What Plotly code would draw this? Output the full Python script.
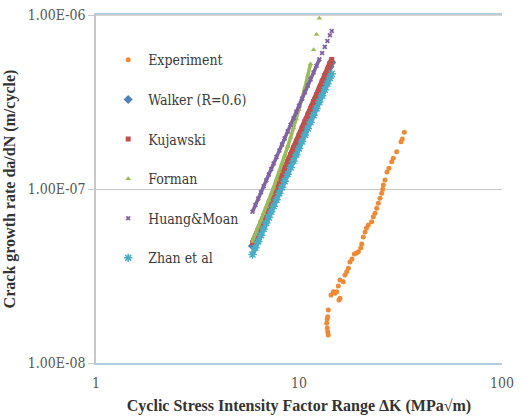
import plotly.graph_objects as go

# Experimental data (ΔK in MPa√m, da/dN in m/cycle)
exp_dk = [13.94, 13.85, 13.79, 13.69, 13.77, 13.85, 13.94, 14.38, 14.76, 15.04,
          15.34, 15.62, 15.92, 15.74, 15.92, 16.53, 16.85, 17.18, 17.50, 17.83,
          18.24, 18.73, 19.20, 19.60, 20.14, 20.37, 20.74, 21.14, 21.50, 21.95,
          22.81, 23.23, 23.68, 24.14, 24.58, 25.06, 25.55, 25.84, 26.02, 26.52,
          27.13, 27.75, 28.62, 29.14, 30.28, 31.80, 32.28, 33.02]
exp_rate = [1.448e-8, 1.513e-8, 1.589e-8, 1.691e-8, 1.790e-8, 1.845e-8, 2.016e-8, 2.459e-8, 2.569e-8, 2.515e-8,
            2.569e-8, 2.770e-8, 2.999e-8, 2.302e-8, 2.354e-8, 2.932e-8, 3.203e-8, 3.346e-8, 3.500e-8, 3.805e-8,
            3.959e-8, 4.229e-8, 4.286e-8, 4.361e-8, 4.580e-8, 4.829e-8, 5.298e-8, 5.661e-8, 5.969e-8, 6.210e-8,
            6.488e-8, 6.934e-8, 7.252e-8, 7.745e-8, 8.275e-8, 8.843e-8, 9.447e-8, 9.961e-8, 1.054e-7, 1.126e-7,
            1.252e-7, 1.315e-7, 1.435e-7, 1.501e-7, 1.638e-7, 1.870e-7, 1.939e-7, 2.118e-7]

# Model predictions, shared ΔK values
model_dk = [5.9, 6.1, 6.3, 6.5, 6.7, 6.9, 7.1, 7.3, 7.5, 7.75,
            8.0, 8.25, 8.5, 8.8, 9.1, 9.4, 9.7, 10.0, 10.35, 10.7,
            11.05, 11.4, 11.8, 12.2, 12.6, 13.0, 13.4, 13.8, 14.2, 14.5]

walker = [4.70e-8, 5.15e-8, 5.62e-8, 6.12e-8, 6.63e-8, 7.18e-8, 7.76e-8, 8.36e-8, 9.00e-8, 9.82e-8,
          1.070e-7, 1.163e-7, 1.260e-7, 1.384e-7, 1.516e-7, 1.654e-7, 1.801e-7, 1.955e-7, 2.145e-7, 2.346e-7,
          2.560e-7, 2.785e-7, 3.057e-7, 3.345e-7, 3.649e-7, 3.969e-7, 4.308e-7, 4.667e-7, 5.040e-7, 5.333e-7]

kujawski = [4.90e-8, 5.36e-8, 5.85e-8, 6.37e-8, 6.91e-8, 7.48e-8, 8.08e-8, 8.71e-8, 9.37e-8, 1.023e-7,
            1.115e-7, 1.211e-7, 1.313e-7, 1.442e-7, 1.579e-7, 1.723e-7, 1.876e-7, 2.036e-7, 2.234e-7, 2.444e-7,
            2.667e-7, 2.901e-7, 3.184e-7, 3.484e-7, 3.801e-7, 4.134e-7, 4.488e-7, 4.861e-7, 5.250e-7, 5.555e-7]

forman_dk = [5.9, 6.1, 6.3, 6.5, 6.7, 6.9, 7.1, 7.3, 7.5, 7.75,
             8.0, 8.25, 8.5, 8.8, 9.1, 9.4, 9.7, 10.0, 10.35, 10.7,
             11.05, 11.4, 11.8, 12.2, 12.6]
forman = [5.00e-8, 5.50e-8, 6.03e-8, 6.61e-8, 7.24e-8, 7.91e-8, 8.63e-8, 9.41e-8, 1.024e-7, 1.138e-7,
          1.263e-7, 1.400e-7, 1.551e-7, 1.753e-7, 1.981e-7, 2.238e-7, 2.529e-7, 2.861e-7, 3.311e-7, 3.840e-7,
          4.473e-7, 5.236e-7, 6.317e-7, 7.713e-7, 9.572e-7]

huang_moan = [7.40e-8, 8.09e-8, 8.81e-8, 9.57e-8, 1.038e-7, 1.122e-7, 1.210e-7, 1.304e-7, 1.401e-7, 1.529e-7,
              1.663e-7, 1.804e-7, 1.954e-7, 2.143e-7, 2.343e-7, 2.553e-7, 2.775e-7, 3.011e-7, 3.300e-7, 3.605e-7,
              3.927e-7, 4.266e-7, 4.676e-7, 5.111e-7, 5.568e-7, 6.049e-7, 6.558e-7, 7.090e-7, 7.652e-7, 8.091e-7]

zhan = [4.20e-8, 4.59e-8, 5.00e-8, 5.43e-8, 5.89e-8, 6.37e-8, 6.87e-8, 7.40e-8, 7.95e-8, 8.68e-8,
        9.44e-8, 1.024e-7, 1.109e-7, 1.216e-7, 1.330e-7, 1.449e-7, 1.575e-7, 1.709e-7, 1.873e-7, 2.046e-7,
        2.229e-7, 2.421e-7, 2.654e-7, 2.901e-7, 3.160e-7, 3.433e-7, 3.722e-7, 4.024e-7, 4.343e-7, 4.592e-7]

y_tickvals = [1e-8, 1e-7, 1e-6]
y_ticktext = ["1.00E-08", "1.00E-07", "1.00E-06"]
x_tickvals = [1, 10, 100]
x_ticktext = ["1", "10", "100"]

FONT = "Liberation Serif"
FONT_R = "DejaVu Serif Condensed, DejaVu Serif"

fig = go.Figure()
# (name, x, y, marker, band width, number of points covered by the dense band)
series = [
    ("Experiment", exp_dk, exp_rate, dict(symbol="circle", size=5, color="#EE8A35"), 0, 0),
    ("Walker (R=0.6)", model_dk, walker, dict(symbol="diamond", size=7, color="#4F81BD"), 6, 30),
    ("Kujawski", model_dk, kujawski, dict(symbol="square", size=5, color="#C0504D"), 5.5, 30),
    ("Forman", forman_dk, forman, dict(symbol="triangle-up", size=5, color="#9BBB59"), 3.5, 22),
    ("Huang&Moan", model_dk, huang_moan, dict(symbol="x", size=4.5, color="#8064A2"), 3.5, 25),
    ("Zhan et al", model_dk, zhan, dict(symbol="asterisk-open", size=7, color="#4BACC6",
                                         line=dict(color="#4BACC6", width=1.5)), 5, 30),
]
for i, (name, xs, ys, mk, bw, nb) in enumerate(series):
    if bw > 0:
        fig.add_trace(go.Scatter(x=xs[:nb], y=ys[:nb], mode="lines", showlegend=False,
                                 legendgroup=f"g{i}", hoverinfo="skip",
                                 line=dict(color=mk["color"], width=bw)))
    fig.add_trace(go.Scatter(x=xs, y=ys, mode="markers", name=name, marker=mk,
                             legendgroup=f"g{i}"))

fig.update_layout(
    width=527, height=419,
    margin=dict(l=96, r=25, t=15, b=56, autoexpand=False),
    paper_bgcolor="white", plot_bgcolor="white",
    font=dict(family=FONT, color="#404040"),
    showlegend=True,
    legend=dict(x=0.03, y=0.916, xanchor="left", yanchor="top",
                bgcolor="rgba(0,0,0,0)", font=dict(family=FONT_R, size=14, color="#3a3a3a"),
                tracegroupgap=18.4),
    shapes=[dict(type="line", xref="paper", yref="paper", x0=0, x1=1, y0=1, y1=1,
                 line=dict(color="#C8C8C8", width=1.5), layer="above")],
    xaxis=dict(type="log", range=[0, 2], tickvals=x_tickvals, ticktext=x_ticktext,
               showgrid=False, showline=True, linecolor="#AFCFE0", linewidth=1.5,
               mirror=True, ticks="", zeroline=False, ticklabelstandoff=6, automargin=False,
               tickfont=dict(family=FONT_R, size=14, color="#555555"),
               title=dict(text="<b>Cyclic Stress Intensity Factor Range ΔK (MPa√m)</b>",
                          font=dict(family=FONT, size=16, color="#333333"), standoff=10)),
    yaxis=dict(type="log", range=[-8, -6], tickvals=y_tickvals, ticktext=y_ticktext,
               showgrid=True, gridcolor="#C8C8C8", gridwidth=1.2,
               showline=True, linecolor="#C8C8C8", linewidth=1.5,
               ticks="outside", ticklen=6, tickcolor="#C8C8C8",
               zeroline=False, automargin=False,
               tickfont=dict(family=FONT_R, size=14, color="#555555"),
               title=dict(text="<b>Crack growth rate da/dN (m/cycle)</b>",
                          font=dict(family=FONT, size=16, color="#333333"), standoff=8)),
)

fig.write_html("out.html")
